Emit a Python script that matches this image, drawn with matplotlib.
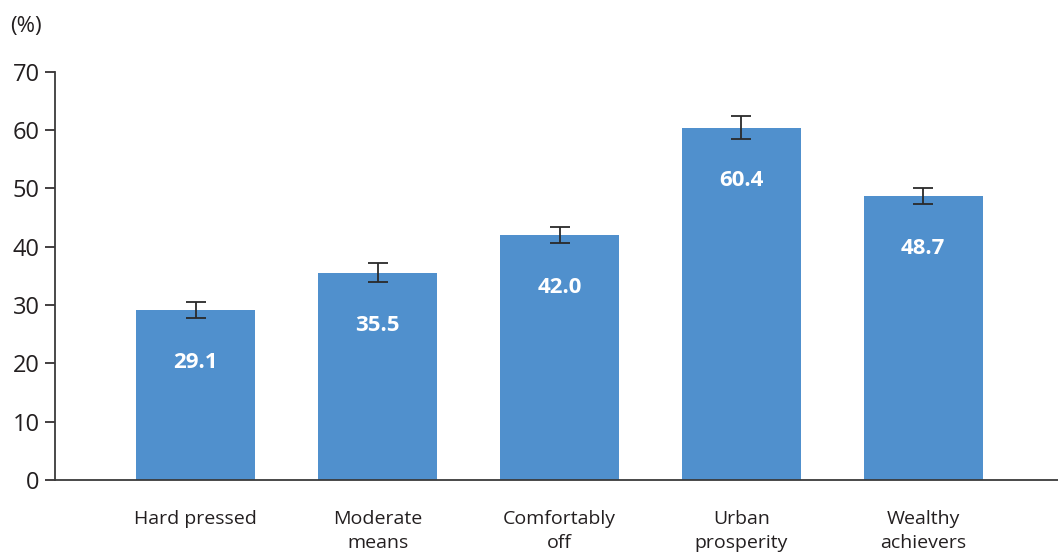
import matplotlib.pyplot as plt

categories = ["Hard pressed", "Moderate\nmeans", "Comfortably\noff", "Urban\nprosperity", "Wealthy\nachievers"]
values = [29.1, 35.5, 42.0, 60.4, 48.7]
errors = [1.4, 1.65, 1.35, 2.0, 1.35]

bar_color = "#5090CD"
text_color = "#231F20"

plt.rcParams["font.family"] = ["Open Sans", "DejaVu Sans"]

fig = plt.figure(figsize=(10.58, 5.56), dpi=100)
ax = fig.add_axes([0.052, 0.137, 0.948, 0.734])

x = range(len(categories))
ax.bar(x, values, width=0.655, color=bar_color, zorder=2)
ax.errorbar(x, values, yerr=errors, fmt="none", ecolor="#2a2a2a",
            elinewidth=1.3, capsize=7, capthick=1.3, zorder=3)

for xi, v in zip(x, values):
    ax.annotate(f"{v:.1f}", (xi, v), xytext=(0, -38), textcoords="offset points",
                ha="center", va="center", color="white", fontsize=16, fontweight="bold")

ax.set_xlim(-0.775, 4.742)
ax.set_ylim(0, 70)
ax.set_yticks(range(0, 71, 10))
ax.set_xticks(list(x))
ax.set_xticklabels(categories, fontsize=14, color=text_color, linespacing=1.4)
ax.tick_params(axis="x", length=0, pad=22)
ax.tick_params(axis="y", labelsize=17, colors=text_color, length=7, width=1.2, pad=4, direction="out")

for side in ["top", "right"]:
    ax.spines[side].set_visible(False)
for side in ["left", "bottom"]:
    ax.spines[side].set_color("#3a3a3a")
    ax.spines[side].set_linewidth(1.3)

fig.text(0.010, 0.952, "(%)", fontsize=16, color=text_color, ha="left", va="center")

fig.savefig("out.png", dpi=100)
